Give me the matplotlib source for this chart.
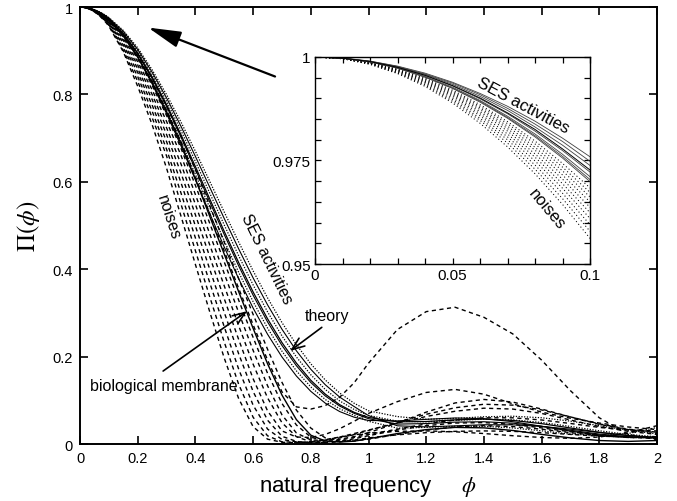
import numpy as np
import matplotlib.pyplot as plt
from matplotlib.ticker import MultipleLocator

plt.rcParams['font.family'] = ['Liberation Sans', 'DejaVu Sans']
plt.rcParams['mathtext.fontset'] = 'stix'

# natural frequency samples (fine near zero for the inset)
phi = [0.0, 0.01, 0.02, 0.03, 0.04, 0.05, 0.06, 0.07, 0.08, 0.09, 0.10,
       0.15, 0.20, 0.25, 0.30, 0.35, 0.40, 0.45, 0.50, 0.55, 0.60, 0.65,
       0.70, 0.75, 0.80, 0.85, 0.90, 0.95, 1.00,
       1.1, 1.2, 1.3, 1.4, 1.5, 1.6, 1.7, 1.8, 1.9, 2.0]

theory = [1.0, .9997, .9989, .9975, .9956, .9931, .9901, .9865, .9825, .9778, .9727,
          .9395, .8947, .8398, .7768, .7077, .6348, .5603, .4863, .4150, .3479, .2866,
          .2321, .1851, .1458, .1142, .0900, .0725, .0608,
          .0508, .0515, .0553, .0570, .0540, .0466, .0367, .0268, .0193, .0152]

# SES activities
ses_1 = [1.0, .9998, .9990, .9978, .9961, .9939, .9912, .9881, .9845, .9804, .9759,
         .9464, .9066, .8563, .7995, .7367, .6698, .6005, .5307, .4621, .3962, .3344,
         .2779, .2274, .1835, .1466, .1167, .0934, .0760,
         .0628, .0566, .0586, .0624, .0636, .0601, .0524, .0420, .0315, .0232]
ses_2 = [1.0, .9997, .9990, .9977, .9959, .9937, .9909, .9876, .9838, .9796, .9748,
         .9442, .9028, .8508, .7919, .7270, .6581, .5871, .5159, .4464, .3801, .3185,
         .2626, .2133, .1710, .1357, .1074, .0858, .0650,
         .0417, .0392, .0416, .0441, .0439, .0403, .0339, .0264, .0193, .0143]
ses_3 = [1.0, .9997, .9989, .9976, .9958, .9934, .9905, .9871, .9831, .9787, .9738,
         .9419, .8989, .8453, .7844, .7174, .6465, .5737, .5011, .4307, .3640, .3025,
         .2474, .1992, .1584, .1249, .0987, .0792, .0655,
         .0522, .0509, .0543, .0568, .0553, .0493, .0402, .0303, .0219, .0165]
ses_4 = [1.0, .9997, .9989, .9975, .9955, .9930, .9899, .9863, .9821, .9774, .9722,
         .9384, .8929, .8366, .7727, .7026, .6288, .5536, .4792, .4076, .3405, .2795,
         .2255, .1792, .1407, .1101, .0869, .0703, .0580,
         .0456, .0468, .0501, .0510, .0477, .0406, .0315, .0228, .0166, .0133]
ses_5 = [1.0, .9997, .9988, .9974, .9953, .9927, .9895, .9857, .9814, .9765, .9711,
         .9360, .8889, .8304, .7644, .6924, .6169, .5403, .4649, .3929, .3258, .2653,
         .2124, .1674, .1306, .1019, .0806, .0658, .0520,
         .0364, .0381, .0406, .0405, .0368, .0302, .0227, .0190, .0240, .0380]
ses_6 = [1.0, .9997, .9988, .9973, .9951, .9924, .9891, .9852, .9807, .9756, .9699,
         .9336, .8848, .8241, .7561, .6822, .6050, .5270, .4507, .3781, .3111, .2512,
         .1992, .1556, .1205, .0936, .0743, .0614, .0539,
         .0529, .0565, .0596, .0581, .0511, .0406, .0296, .0210, .0162, .0146]

bio_membrane = [1.0, .9997, .9988, .9973, .9952, .9925, .9893, .9854, .9810, .9760, .9704,
                .9344, .8861, .8272, .7602, .6874, .6061, .5204, .4343, .3484, .2647, .1837,
                .1120, .0558, .0202, .0070, .0045, .0065, .0120,
                .0240, .0330, .0380, .0370, .0310, .0220, .0140, .0080, .0060, .0080]

# noises
noise_1 = [1.0, .9997, .9987, .9971, .9949, .9920, .9885, .9844, .9797, .9743, .9684,
           .9384, .8928, .8371, .7729, .7037, .6277, .5450, .4616, .3784, .2966, .2169,
           .1411, .0776, .0365, .0141, .0060, .0070, .0110,
           .022, .032, .039, .042, .040, .034, .026, .019, .015, .014]
noise_2 = [1.0, .9997, .9987, .9970, .9947, .9917, .9881, .9839, .9790, .9734, .9673,
           .9355, .8878, .8298, .7634, .6917, .6116, .5267, .4414, .3560, .2729, .1922,
           .1194, .0850, .0800, .0880, .1070, .1400, .1850,
           .262, .303, .313, .290, .252, .192, .122, .060, .022, .010]
noise_3 = [1.0, .9997, .9986, .9969, .9945, .9914, .9877, .9833, .9782, .9725, .9662,
           .9318, .8815, .8206, .7516, .6767, .5917, .5043, .4164, .3291, .2439, .1619,
           .0928, .0435, .0158, .0060, .0060, .0120, .0190,
           .032, .042, .048, .049, .045, .037, .028, .020, .015, .013]
noise_4 = [1.0, .9996, .9986, .9968, .9943, .9911, .9873, .9827, .9775, .9715, .9650,
           .9277, .8747, .8106, .7381, .6605, .5707, .4803, .3898, .3007, .2142, .1334,
           .0667, .0253, .0093, .0080, .0110, .0170, .0260,
           .048, .073, .094, .102, .096, .080, .062, .045, .033, .026]
noise_5 = [1.0, .9996, .9985, .9967, .9941, .9908, .9868, .9821, .9766, .9705, .9637,
           .9233, .8673, .7999, .7237, .6409, .5483, .4550, .3617, .2706, .1827, .1056,
           .0487, .0167, .0050, .0030, .0050, .0090, .0140,
           .021, .026, .029, .030, .029, .026, .022, .018, .016, .017]
noise_6 = [1.0, .9996, .9985, .9966, .9939, .9905, .9863, .9814, .9758, .9694, .9624,
           .9185, .8592, .7882, .7083, .6201, .5244, .4280, .3323, .2390, .1493, .0758,
           .0300, .0160, .0150, .0220, .0350, .0520, .0700,
           .097, .118, .125, .114, .092, .073, .059, .048, .039, .033]
noise_7 = [1.0, .9996, .9984, .9964, .9937, .9901, .9858, .9807, .9749, .9683, .9610,
           .9132, .8503, .7756, .6920, .5980, .4988, .3992, .3011, .2062, .1201, .0545,
           .0177, .0060, .0020, .0040, .0090, .0150, .0220,
           .034, .046, .055, .060, .060, .055, .047, .038, .032, .030]
noise_8 = [1.0, .9996, .9984, .9963, .9934, .9897, .9852, .9800, .9739, .9671, .9595,
           .9074, .8407, .7617, .6746, .5743, .4715, .3685, .2680, .1712, .0888, .0342,
           .0104, .0050, .0030, .0070, .0140, .0220, .0310,
           .050, .068, .083, .091, .089, .078, .062, .046, .034, .027]
noise_9 = [1.0, .9996, .9983, .9961, .9932, .9893, .9847, .9792, .9729, .9658, .9579,
           .9010, .8301, .7469, .6592, .5488, .4422, .3360, .2331, .1366, .0612, .0188,
           .0050, .0040, .0040, .0090, .0160, .0240, .0320,
           .048, .063, .075, .082, .080, .070, .055, .040, .029, .022]
noise_10 = [1.0, .9996, .9982, .9960, .9929, .9889, .9840, .9783, .9718, .9644, .9562,
            .8975, .8185, .7307, .6311, .5214, .4108, .3017, .1965, .1037, .0397, .0111,
            .0040, .0030, .0050, .0100, .0160, .0210, .0250,
            .029, .030, .028, .024, .019, .015, .013, .016, .026, .042]

x_ticks = [0, 0.2, 0.4, 0.6, 0.8, 1.0, 1.2, 1.4, 1.6, 1.8, 2.0]
x_labels = ['0', '0.2', '0.4', '0.6', '0.8', '1', '1.2', '1.4', '1.6', '1.8', '2']
y_ticks = [0, 0.2, 0.4, 0.6, 0.8, 1.0]
y_labels = ['0', '0.2', '0.4', '0.6', '0.8', '1']
inset_x_ticks = [0, 0.05, 0.1]
inset_x_labels = ['0', '0.05', '0.1']
inset_y_ticks = [0.95, 0.975, 1.0]
inset_y_labels = ['0.95', '0.975', '1']

ses = [ses_1, ses_2, ses_3, ses_4, ses_5, ses_6]
noises = [noise_1, noise_2, noise_3, noise_4, noise_5, noise_6,
          noise_7, noise_8, noise_9, noise_10]

fig = plt.figure(figsize=(6.77, 5.02), dpi=100)
ax = fig.add_axes([0.1182, 0.1135, 0.8523, 0.8705])
inset = fig.add_axes([0.4653, 0.4721, 0.4062, 0.4124])

# main panel
for i, curve in enumerate(noises):
    ax.plot(phi, curve, color='black', lw=1.0, ls=(i * 1.3, (3, 2.5)))
for i, curve in enumerate(ses):
    if i % 2 == 0:
        ax.plot(phi, curve, color='black', lw=0.9, ls=(0, (1, 1.2)))
    else:
        ax.plot(phi, curve, color='black', lw=0.8)
ax.plot(phi, bio_membrane, color='black', lw=1.0)
ax.plot(phi, theory, color='black', lw=0.9)

ax.set_xlim(0, 2)
ax.set_ylim(0, 1)
ax.set_xticks(x_ticks)
ax.set_xticklabels(x_labels)
ax.set_yticks(y_ticks)
ax.set_yticklabels(y_labels)
ax.tick_params(direction='in', length=6, width=1.2, top=True, right=True,
               labelsize=10.5, pad=5)
for s in ax.spines.values():
    s.set_linewidth(1.4)
ax.set_xlabel('natural frequency     $\\phi$', fontsize=16, labelpad=6)
ax.set_ylabel('$\\Pi(\\phi)$', fontsize=18, labelpad=8)

ax.text(0.305, 0.52, 'noises', fontsize=11.5, rotation=-72,
        ha='center', va='center', rotation_mode='anchor')
ax.text(0.648, 0.425, 'SES activities', fontsize=11.5, rotation=-64,
        ha='center', va='center', rotation_mode='anchor')
ax.text(0.78, 0.295, 'theory', fontsize=11.5, ha='left', va='center')
ax.text(0.035, 0.135, 'biological membrane', fontsize=11.5, ha='left', va='center')

ax.annotate('', xy=(0.236, 0.953), xytext=(0.676, 0.841),
            arrowprops=dict(arrowstyle='-|>,head_length=2.0,head_width=0.5',
                            lw=1.6, color='black', shrinkA=0, shrinkB=0))
ax.annotate('', xy=(0.728, 0.213), xytext=(0.838, 0.267),
            arrowprops=dict(arrowstyle='->,head_length=0.9,head_width=0.35',
                            lw=1.2, color='black', shrinkA=0, shrinkB=0))
ax.annotate('', xy=(0.579, 0.304), xytext=(0.288, 0.167),
            arrowprops=dict(arrowstyle='->,head_length=0.9,head_width=0.35',
                            lw=1.2, color='black', shrinkA=0, shrinkB=0))

# inset: zoom on the low-frequency part
for curve in noises:
    inset.plot(phi, curve, color='black', lw=0.75, ls=(0, (1, 2.4)))
for curve in ses:
    inset.plot(phi, curve, color='0.25', lw=0.6)
inset.plot(phi, bio_membrane, color='0.25', lw=0.6)
inset.plot(phi, theory, color='black', lw=0.7)

inset.set_xlim(0, 0.1)
inset.set_ylim(0.95, 1.0)
inset.set_xticks(inset_x_ticks)
inset.set_xticklabels(inset_x_labels)
inset.set_yticks(inset_y_ticks)
inset.set_yticklabels(inset_y_labels)
inset.xaxis.set_minor_locator(MultipleLocator(0.01))
inset.yaxis.set_minor_locator(MultipleLocator(0.005))
inset.tick_params(which='both', direction='in', length=4, width=0.9,
                  top=True, right=True)
inset.tick_params(labelsize=11, pad=3)
for s in inset.spines.values():
    s.set_linewidth(1.0)

inset.text(0.0756, 0.9884, 'SES activities', fontsize=12, rotation=-28,
           ha='center', va='center', rotation_mode='anchor')
inset.text(0.0844, 0.9633, 'noises', fontsize=12, rotation=-50,
           ha='center', va='center', rotation_mode='anchor')

fig.savefig('out.png', dpi=100)
